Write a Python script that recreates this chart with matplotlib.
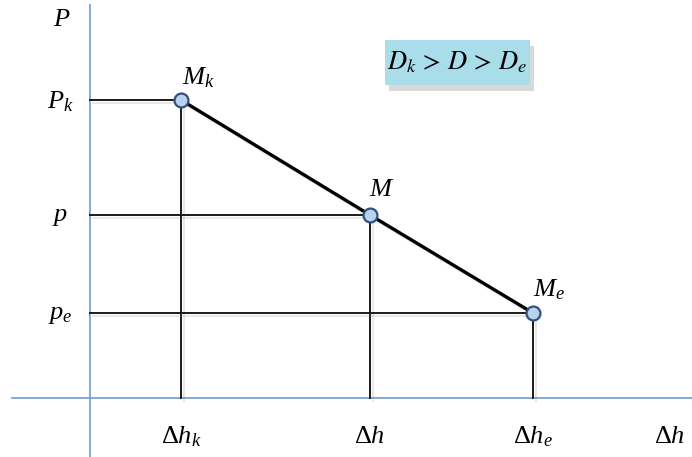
import matplotlib
matplotlib.use("Agg")
import matplotlib.pyplot as plt
import matplotlib.patheffects as pe
from matplotlib.patches import FancyBboxPatch

plt.rcParams['mathtext.fontset'] = 'custom'
plt.rcParams['mathtext.rm'] = 'Liberation Serif'
plt.rcParams['mathtext.it'] = 'Liberation Serif:italic'
plt.rcParams['font.family'] = 'Liberation Serif'

# Data (abstract units)
h_vals = [0.91, 2.80, 4.43]          # Δh_k, Δh, Δh_e
p_vals = [2.98, 1.83, 0.85]          # P_k, p, p_e
point_labels = [r'$M_k$', r'$M$', r'$M_e$']
x_tick_labels = [r'$\Delta h_k$', r'$\Delta h$', r'$\Delta h_e$']
y_tick_labels = [r'$P_k$', r'$p$', r'$p_e$']
axis_labels = [r'$P$', r'$\Delta h$']
relation = r'$D_k\,>\,D\,>\,D_e$'

fig = plt.figure(figsize=(6.92, 4.57), dpi=100)
ax = fig.add_axes([0, 0, 1, 1])
ax.set_xlim(-0.90, 6.02)
ax.set_ylim(-0.59, 3.98)
ax.axis('off')

shadow = [pe.SimpleLineShadow(offset=(2, -2), shadow_color='gray', alpha=0.18), pe.Normal()]

axis_color = '#7aa3d6'
ax.plot([-0.78, 6.02], [0, 0], color=axis_color, lw=1.3, zorder=2)
ax.plot([0, 0], [-0.59, 3.93], color=axis_color, lw=1.3, zorder=2)

for h, p in zip(h_vals, p_vals):
    ax.plot([0, h], [p, p], color='#1a1a1a', lw=1.4, zorder=3, path_effects=shadow)
    ax.plot([h, h], [0, p], color='#1a1a1a', lw=1.4, zorder=3, path_effects=shadow)

ax.plot(h_vals, p_vals, color='black', lw=2.4, zorder=4, path_effects=shadow)
ax.plot(h_vals, p_vals, 'o', ms=10, mfc='#b9d3ee', mec='#34507a', mew=1.6, zorder=5)

fs = 19
offs = [(0.17, 0.22), (0.12, 0.25), (0.16, 0.23)]
for h, p, lab, (dx, dy) in zip(h_vals, p_vals, point_labels, offs):
    ax.text(h + dx, p + dy, lab, fontsize=fs, ha='center', va='center', zorder=6)

for h, lab in zip(h_vals, x_tick_labels):
    ax.text(h, -0.39, lab, fontsize=fs, ha='center', va='center')
for p, lab in zip(p_vals, y_tick_labels):
    ax.text(-0.30, p - 0.02, lab, fontsize=fs, ha='center', va='center')

ax.text(-0.28, 3.78, axis_labels[0], fontsize=fs, ha='center', va='center')
ax.text(5.80, -0.39, axis_labels[1], fontsize=fs, ha='center', va='center')

box = FancyBboxPatch((2.95, 3.13), 1.45, 0.45, boxstyle='square,pad=0',
                     fc='#a9dde9', ec='none', zorder=6,
                     path_effects=[pe.SimplePatchShadow(offset=(3, -4), shadow_rgbFace='black', alpha=0.15), pe.Normal()])
ax.add_patch(box)
ax.text(3.675, 3.355, relation, fontsize=fs, ha='center', va='center', zorder=7,
        math_fontfamily='stix')

fig.savefig('out.png', dpi=100)
